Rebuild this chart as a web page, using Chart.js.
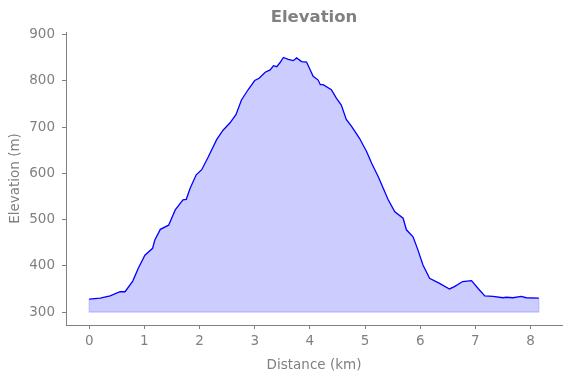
<!DOCTYPE html>
<html>
<head>
<meta charset="utf-8">
<script src="https://cdn.jsdelivr.net/npm/chart.js@4/dist/chart.umd.min.js"></script>
<style>
  html, body { margin: 0; padding: 0; background: #fff; }
  #wrap { width: 571px; height: 378px; }
</style>
</head>
<body>
<div id="wrap"><canvas id="chart" width="571" height="378"></canvas></div>
<script>
// profile
const distanceKm = [0, 0.2, 0.38, 0.56, 0.65, 0.79, 0.89, 1.01, 1.15, 1.19,
  1.29, 1.44, 1.56, 1.70, 1.76, 1.83, 1.94, 2.04, 2.16, 2.31,
  2.43, 2.55, 2.66, 2.76, 2.88, 3.0, 3.08, 3.19, 3.28, 3.34,
  3.40, 3.46, 3.52, 3.61, 3.70, 3.76, 3.85, 3.94, 4.06, 4.15,
  4.19, 4.24, 4.39, 4.48, 4.57, 4.66, 4.75, 4.90, 5.03, 5.12,
  5.24, 5.33, 5.42, 5.54, 5.69, 5.75, 5.87, 5.96, 6.05, 6.17,
  6.35, 6.53, 6.62, 6.77, 6.93, 7.05, 7.17, 7.32, 7.50, 7.56,
  7.68, 7.83, 7.92, 8.15];
const elevationM = [328, 330, 335, 344, 344, 367, 395, 423, 438, 456,
  479, 488, 521, 543, 544, 568, 597, 608, 636, 673,
  694, 709, 727, 759, 781, 801, 806, 819, 824, 833,
  831, 840, 851, 847, 844, 850, 842, 841, 810, 802,
  792, 792, 781, 763, 748, 717, 703, 676, 647, 622,
  593, 568, 543, 517, 503, 478, 463, 434, 402, 373,
  362, 350, 355, 366, 368, 351, 335, 334, 331, 332,
  331, 334, 331, 330];
const baseElevation = 300;
const xTicks = [0, 1, 2, 3, 4, 5, 6, 7, 8];
const yTicks = [300, 400, 500, 600, 700, 800, 900];

const grey = '#808080';
const font = "'DejaVu Sans', sans-serif";

const profile = distanceKm.map((d, i) => ({ x: d, y: elevationM[i] }));
const last = distanceKm.length - 1;
// outline of the filled polygon (sides + bottom)
const outline = [
  { x: distanceKm[0], y: elevationM[0] },
  { x: distanceKm[0], y: baseElevation },
  { x: distanceKm[last], y: baseElevation },
  { x: distanceKm[last], y: elevationM[last] }
];

const titlePlugin = {
  id: 'centeredTitle',
  afterDraw(chart) {
    const { ctx, chartArea } = chart;
    ctx.save();
    ctx.fillStyle = grey;
    ctx.font = 'bold 16.5px ' + font;
    ctx.textAlign = 'center';
    ctx.textBaseline = 'middle';
    ctx.fillText('Elevation', (chartArea.left + chartArea.right) / 2, 17.5);
    ctx.restore();
  }
};

new Chart(document.getElementById('chart'), {
  type: 'line',
  data: {
    datasets: [
      {
        data: profile,
        borderColor: '#0000ff',
        borderWidth: 1.3,
        backgroundColor: 'rgba(0, 0, 255, 0.2)',
        fill: { value: baseElevation },
        pointRadius: 0,
        tension: 0
      },
      {
        data: outline,
        borderColor: 'rgba(0, 0, 255, 0.2)',
        borderWidth: 1.2,
        fill: false,
        pointRadius: 0,
        tension: 0
      }
    ]
  },
  options: {
    responsive: false,
    animation: false,
    layout: { padding: { top: 32, right: 9, left: 0, bottom: 0 } },
    plugins: {
      legend: { display: false },
      tooltip: { enabled: false },
      title: { display: false }
    },
    scales: {
      x: {
        type: 'linear',
        min: -0.42,
        max: 8.57,
        afterBuildTicks: s => { s.ticks = xTicks.map(v => ({ value: v })); },
        afterFit: s => { s.height = 53; },
        grid: { display: true, drawOnChartArea: false, drawTicks: true, tickLength: 4, color: grey },
        border: { display: true, color: grey, width: 1 },
        ticks: { color: grey, font: { family: font, size: 13.5 }, padding: 4, maxRotation: 0 },
        title: { display: true, text: 'Distance (km)', color: grey, font: { family: font, size: 13.5 }, padding: { top: 2 } }
      },
      y: {
        type: 'linear',
        min: 272,
        max: 906,
        afterBuildTicks: s => { s.ticks = yTicks.map(v => ({ value: v })); },
        afterFit: s => { s.width = 66; },
        grid: { display: true, drawOnChartArea: false, drawTicks: true, tickLength: 4, color: grey },
        border: { display: true, color: grey, width: 1 },
        ticks: { color: grey, font: { family: font, size: 13.5 }, padding: 7 },
        title: { display: true, text: 'Elevation (m)', color: grey, font: { family: font, size: 13.5 }, padding: { top: 7, bottom: 2 } }
      }
    }
  },
  plugins: [titlePlugin]
});
</script>
</body>
</html>
